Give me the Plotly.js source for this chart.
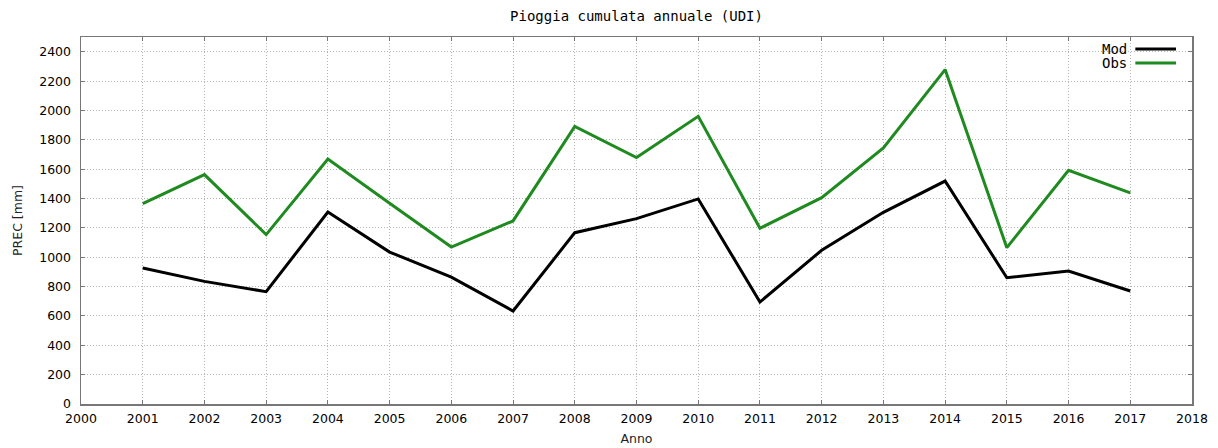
<!DOCTYPE html>
<html>
<head>
<meta charset="utf-8">
<script src="https://cdn.plot.ly/plotly-3.0.1.min.js"></script>
<style>html,body{margin:0;padding:0;background:#fff;}#chart{width:1218px;height:448px;}</style>
</head>
<body>
<div id="chart"></div>
<script>
const years = [2001,2002,2003,2004,2005,2006,2007,2008,2009,2010,2011,2012,2013,2014,2015,2016,2017];
const mod = [927,836,766,1309,1036,865,634,1168,1264,1398,695,1048,1307,1520,861,907,770];
const obs = [1366,1564,1155,1670,1368,1070,1248,1893,1680,1961,1198,1407,1745,2280,1066,1593,1439];
const xTicks = [2000,2001,2002,2003,2004,2005,2006,2007,2008,2009,2010,2011,2012,2013,2014,2015,2016,2017,2018];
const yTicks = [0,200,400,600,800,1000,1200,1400,1600,1800,2000,2200,2400];
const seriesNames = ['Mod','Obs'];
const seriesColors = ['#000000','#1f8a1f'];

const tickFont = {family:'DejaVu Sans', size:12.5, color:'#000', weight:500};
const axisCommon = {
  showgrid:true, gridcolor:'#b4b4b4', griddash:'1px,2px', gridwidth:1,
  showline:true, linecolor:'#777', linewidth:1.5, mirror:'ticks',
  ticks:'inside', ticklen:4, tickcolor:'#777',
  zeroline:false, tickfont:tickFont
};

const traces = [
  {x:years, y:mod, type:'scatter', mode:'lines', name:seriesNames[0], line:{color:seriesColors[0], width:3}, showlegend:false},
  {x:years, y:obs, type:'scatter', mode:'lines', name:seriesNames[1], line:{color:seriesColors[1], width:3}, showlegend:false}
];

const legY = [0.967, 0.929];
const annotations = [];
const shapes = [];
seriesNames.forEach((n,i)=>{
  annotations.push({xref:'paper', yref:'paper', x:0.943, y:legY[i], xanchor:'right', yanchor:'middle',
    text:n, showarrow:false, font:{family:'DejaVu Sans Mono', size:14, color:'#000'}});
  shapes.push({type:'line', xref:'paper', yref:'paper', x0:0.949, x1:0.9856, y0:legY[i], y1:legY[i],
    line:{color:seriesColors[i], width:3}});
});

const layout = {
  width:1218, height:448,
  margin:{l:81, r:26, t:37, b:44},
  paper_bgcolor:'#fff', plot_bgcolor:'#fff',
  title:{text:'Pioggia cumulata annuale (UDI)', font:{family:'DejaVu Sans Mono', size:14, color:'#000'},
    x:0.5, xref:'paper', xanchor:'center', y:0.965, yanchor:'middle'},
  xaxis: Object.assign({}, axisCommon, {
    range:[2000,2018], tickvals:xTicks, ticktext:xTicks.map(String), ticklabelstandoff:2,
    title:{text:'Anno', font:{family:'DejaVu Sans', size:12.5, color:'#222'}, standoff:9}
  }),
  yaxis: Object.assign({}, axisCommon, {
    range:[0,2502], tickvals:yTicks, ticktext:yTicks.map(String), ticklabelstandoff:6,
    title:{text:'PREC [mm]', font:{family:'DejaVu Sans', size:12.5, color:'#222'}, standoff:14}
  }),
  annotations: annotations,
  shapes: shapes,
  showlegend:false
};

Plotly.newPlot('chart', traces, layout, {staticPlot:true, displayModeBar:false});
</script>
</body>
</html>
